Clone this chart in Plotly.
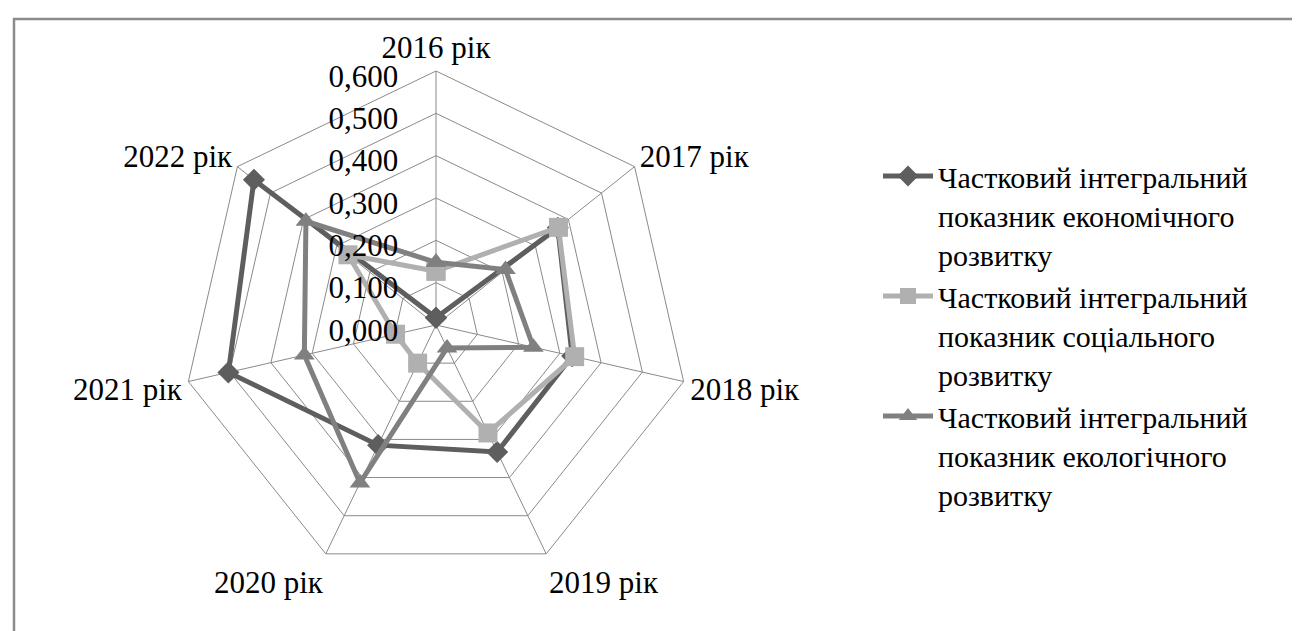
import plotly.graph_objects as go

years = ["2016 рік", "2017 рік", "2018 рік", "2019 рік", "2020 рік", "2021 рік", "2022 рік"]
economic = [0.017, 0.368, 0.330, 0.333, 0.315, 0.503, 0.550]
social = [0.127, 0.370, 0.336, 0.283, 0.100, 0.098, 0.266]
ecological = [0.148, 0.210, 0.236, 0.060, 0.414, 0.319, 0.393]

names = [
    "Частковий інтегральний<br>показник економічного<br>розвитку",
    "Частковий інтегральний<br>показник соціального<br>розвитку",
    "Частковий інтегральний<br>показник екологічного<br>розвитку",
]
series = [economic, social, ecological]
colors = ["#5e5e5e", "#b0b0b0", "#808080"]
symbols = ["diamond", "square", "triangle-up"]
sizes = [17, 19, 18]

W, H = 1300, 631
cx, cy, rad = 428, 317, 254
serif = "Times New Roman, Liberation Serif, serif"

fig = go.Figure()
for vals, name, col, sym, sz in zip(series, names, colors, symbols, sizes):
    fig.add_trace(go.Scatterpolar(
        r=vals + vals[:1],
        theta=years + years[:1],
        mode="lines+markers",
        name=name,
        line=dict(color=col, width=5),
        marker=dict(symbol=sym, size=sz, color=col),
    ))

grid = "#8a8a8a"
fig.update_layout(
    width=W, height=H,
    margin=dict(l=0, r=0, t=0, b=0),
    paper_bgcolor="white",
    separators=", ",
    font=dict(family=serif, size=31, color="black"),
    polar=dict(
        domain=dict(x=[(cx - rad) / W, (cx + rad) / W],
                    y=[(H - cy - rad) / H, (H - cy + rad) / H]),
        gridshape="linear",
        bgcolor="white",
        radialaxis=dict(range=[0, 0.6], dtick=0.1, tickformat=".3f",
                        ticksuffix="\u00a0\u00a0",
                        angle=90, side="counterclockwise", showline=False,
                        gridcolor=grid, gridwidth=1, ticks="",
                        tickfont=dict(size=31, family=serif)),
        angularaxis=dict(direction="clockwise", rotation=90,
                         gridcolor=grid, linecolor=grid, showline=True,
                         ticks="", tickfont=dict(size=31, family=serif)),
    ),
    legend=dict(x=870 / W, y=1 - 142 / H, xanchor="left", yanchor="top",
                valign="top", font=dict(size=30, family=serif),
                itemwidth=50, tracegroupgap=0),
    shapes=[dict(type="rect", xref="paper", yref="paper",
                 x0=6 / W, x1=1292 / W, y0=-0.05, y1=1 - 11 / H,
                 line=dict(color="#8c8c8c", width=2.5))],
)

fig.write_html("out.html")
